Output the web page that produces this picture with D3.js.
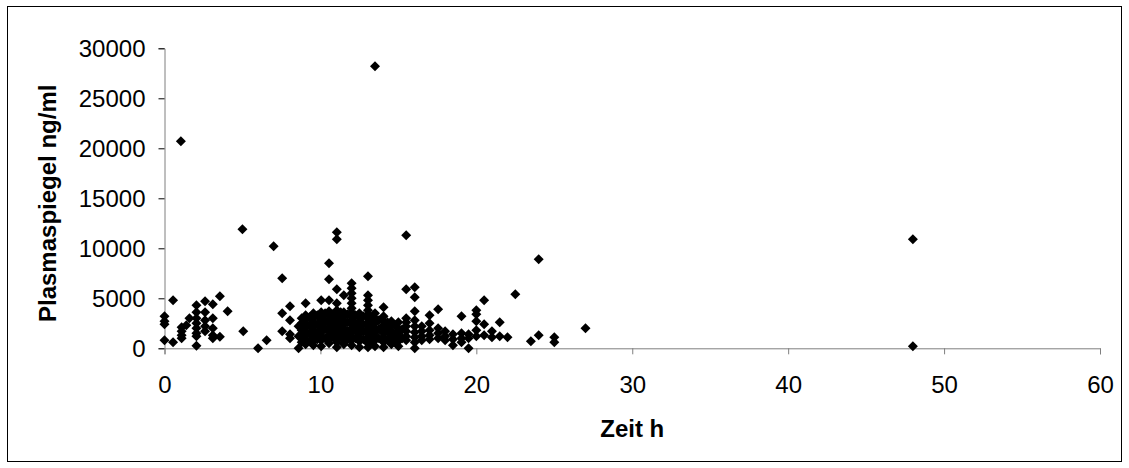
<!DOCTYPE html>
<html>
<head>
<meta charset="utf-8">
<script src="https://cdn.jsdelivr.net/npm/d3@7"></script>
<style>
  html, body { margin: 0; padding: 0; background: #fff; }
  svg { display: block; }
  text { font-family: "Liberation Sans", Arial, sans-serif; fill: #000; }
</style>
</head>
<body>
<svg id="chart" width="1129" height="468"></svg>
<script>
// ---- data ----
const xTicks = [0, 10, 20, 30, 40, 50, 60];
const yTicks = [0, 5000, 10000, 15000, 20000, 25000, 30000];
const xTitle = "Zeit h";
const yTitle = "Plasmaspiegel ng/ml";

// time (h) and plasma level (ng/ml), point by point
const zeit = [
  0.0,0.0,0.0,0.0, 0.55,0.55, 1.05, 1.1,1.1,1.1,1.1, 1.4,1.6,
  2.05,2.05,2.05,2.05,2.05,2.05,2.05,2.05,
  2.6,2.6,2.6,2.6,2.6, 3.1,3.1,3.1,3.1,3.1, 3.55,3.55, 4.05,
  5.0,5.05, 6.0,6.55, 7.0, 7.55,7.55,7.55, 8.05,8.05,8.05,8.05, 8.6,8.6,8.6,
  8.8,8.8,8.8,8.8,8.8,
  9.05,9.05,9.05,9.05,9.05,9.05,9.05,9.05,9.05,
  9.3,9.3,9.3,9.3,
  9.55,9.55,9.55,9.55,9.55,9.55,9.55,9.55,9.55,
  9.8,9.8,9.8,9.8,
  10.05,10.05,10.05,10.05,10.05,10.05,10.05,10.05,10.05,10.05,
  10.3,10.3,10.3,10.3,
  10.55,10.55,10.55,10.55,10.55,10.55,10.55,10.55,10.55,10.55,10.55,10.55,
  10.8,10.8,10.8,10.8,
  11.05,11.05,11.05,11.05,11.05,11.05,11.05,11.05,11.05,11.05,11.05,11.05,11.05,11.05,
  11.3,11.3,11.3,11.3,
  11.5,11.5,11.5,11.5,11.5,11.5,11.5,11.5,11.5,11.5,
  11.75,11.75,11.75,11.75,
  12.0,12.0,12.0,12.0,12.0,12.0,12.0,12.0,12.0,12.0,12.0,12.0,12.0,12.0,12.0,
  12.25,12.25,12.25,12.25,
  12.5,12.5,12.5,12.5,12.5,12.5,12.5,12.5,12.5,
  12.75,12.75,12.75,12.75,
  13.05,13.05,13.05,13.05,13.05,13.05,13.05,13.05,13.05,13.05,13.05,13.05,13.05,13.05,
  13.3,13.3,13.3,13.3,
  13.5,13.5,13.5,13.5,13.5,13.5,13.5,13.5,13.5,
  13.75,13.75,13.75,
  14.05,14.05,14.05,14.05,14.05,14.05,14.05,14.05,14.05,
  14.3,14.3,14.3,
  14.55,14.55,14.55,14.55,14.55,14.55,
  14.8,14.8,14.8,
  15.0,15.0,15.0,15.0,15.0,15.0,
  15.25,15.25,
  15.5,15.5,15.5,15.5,15.5,15.5,15.5,15.5,
  16.05,16.05,16.05,16.05,16.05,16.05,16.05,16.05,16.05,
  16.5,16.5,16.5,16.5,
  17.0,17.0,17.0,17.0,17.0,
  17.55,17.55,17.55,17.55,
  18.0,18.0,18.0, 18.5,18.5,18.5,
  19.05,19.05,19.05,19.05, 19.5,19.5,19.5,
  20.0,20.0,20.0,20.0,20.0, 20.5,20.5,20.5,
  21.0,21.0, 21.5,21.5, 22.0, 22.5, 23.5, 24.0,24.0, 25.0,25.0, 27.0,
  48.0,48.0
];
const plasma = [
  3200,2700,2400,800, 4800,600, 20700, 2100,1700,1300,1000, 2300,3000,
  4300,3600,3000,2500,2000,1500,1200,250,
  4700,3600,2800,2200,1700, 4400,3000,2000,1300,1000, 5200,1150, 3700,
  11900,1700, 0,800, 10200, 7000,3500,1700, 4200,2800,1400,1000, 2200,1200,0,
  3000,2500,1800,1200,600,
  4500,3300,2900,2500,2100,1700,1300,900,400,
  3100,2300,1500,700,
  3500,3000,2600,2200,1800,1500,1100,700,300,
  3300,2400,1600,900,
  4800,3600,3200,2800,2400,2000,1600,1200,800,200,
  3500,2700,1900,1000,
  8500,6900,4800,3700,3300,2900,2500,2100,1700,1300,900,500,
  3400,2600,1800,1100,
  11600,10900,5900,4500,3800,3400,3000,2600,2200,1800,1400,1000,600,100,
  3600,2900,2000,1200,
  5300,3600,3200,2800,2400,2000,1600,1200,800,400,
  3400,2600,1700,900,
  6500,6000,5500,5000,4500,4000,3600,3200,2800,2400,2000,1600,1200,800,300,
  3300,2500,1800,1000,
  3500,3100,2700,2300,1900,1500,1100,700,100,
  3200,2400,1700,900,
  7200,5300,4800,4300,3800,3400,3000,2600,2200,1800,1400,1000,500,100,
  3100,2300,1500,700,
  28200,3500,3000,2500,2000,1600,1200,800,200,
  2800,1900,1000,
  4100,3200,2700,2300,1900,1500,1100,600,100,
  2600,1800,900,
  2700,2200,1700,1300,900,400,
  2300,1500,800,
  2600,2000,1500,1100,700,200,
  1900,1000,
  11300,5900,3000,2600,2200,1700,1200,800,
  6100,5100,3700,2800,2200,1600,1100,600,0,
  2200,1700,1200,800,
  3300,2500,1800,1300,900,
  3900,2000,1500,1000,
  1700,1200,800, 1400,900,300,
  3200,1500,1000,600, 1400,1000,0,
  3800,3400,2700,1800,1200, 4800,2400,1300,
  1700,1100, 2600,1200, 1100, 5400, 700, 8900,1300, 1100,600, 2000,
  10900,200
];

// ---- layout ----
const svg = d3.select("#chart");
const plot = { left: 164.5, right: 1100, top: 48.3, bottom: 348.3 };

const x = d3.scaleLinear().domain([0, 60]).range([plot.left, plot.right]);
const y = d3.scaleLinear().domain([0, 30000]).range([plot.bottom, plot.top]);

// outer border
svg.append("rect")
  .attr("x", 7.5).attr("y", 6.5)
  .attr("width", 1114).attr("height", 455)
  .attr("fill", "none").attr("stroke", "#000").attr("stroke-width", 1);

// y axis
const yAxis = svg.append("g")
  .attr("transform", `translate(${plot.left},0)`)
  .call(d3.axisLeft(y).tickValues(yTicks).tickSize(6).tickPadding(13).tickFormat(d3.format("d")));
yAxis.select(".domain").attr("stroke", "#7f7f7f");
yAxis.selectAll(".tick line").attr("stroke", "#000");
yAxis.selectAll(".tick text")
  .style("font-size", "24px").attr("fill", "#000").attr("dy", "0.35em");

// x axis
const xAxis = svg.append("g")
  .attr("transform", `translate(0,${plot.bottom})`)
  .call(d3.axisBottom(x).tickValues(xTicks).tickSize(6).tickPadding(22).tickFormat(d3.format("d")));
xAxis.select(".domain").attr("stroke", "#7f7f7f");
xAxis.selectAll(".tick line").attr("stroke", "#7f7f7f");
xAxis.selectAll(".tick text")
  .style("font-size", "24px").attr("fill", "#000");

// titles
svg.append("text")
  .attr("x", (plot.left + plot.right) / 2)
  .attr("y", 437)
  .attr("text-anchor", "middle")
  .style("font-size", "24px").style("font-weight", "bold")
  .text(xTitle);

svg.append("text")
  .attr("transform", `translate(56,${(plot.top + plot.bottom) / 2 + 5}) rotate(-90)`)
  .attr("text-anchor", "middle")
  .style("font-size", "24px").style("font-weight", "bold")
  .text(yTitle);

// points (diamonds)
const pts = zeit.map((t, i) => ({ t, v: plasma[i] }));
const diamond = d3.symbol().type(d3.symbolSquare).size(50);
svg.append("g").selectAll("path")
  .data(pts)
  .join("path")
  .attr("d", diamond)
  .attr("transform", d => `translate(${x(d.t)},${y(d.v)}) rotate(45)`)
  .attr("fill", "#000");
</script>
</body>
</html>
